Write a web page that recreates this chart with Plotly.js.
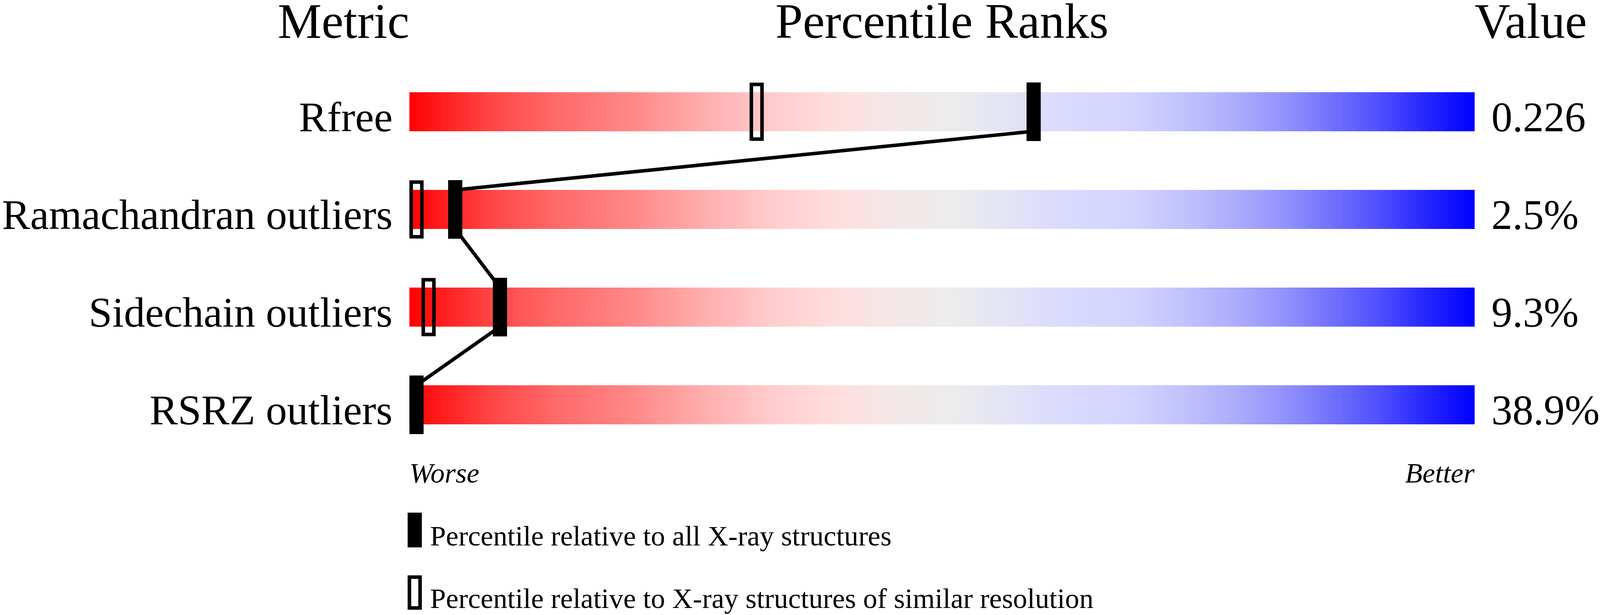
<!DOCTYPE html>
<html>
<head>
<meta charset="utf-8">
<script src="https://cdn.plot.ly/plotly-3.0.1.min.js"></script>
<style>
html,body{margin:0;padding:0;background:#ffffff;overflow:hidden;}
#chart{position:absolute;left:0;top:0;}
</style>
</head>
<body>
<div id="chart"></div>
<script>
// ---------------- data ----------------
const metrics = ['Rfree', 'Ramachandran outliers', 'Sidechain outliers', 'RSRZ outliers'];
const values = ['0.226', '2.5%', '9.3%', '38.9%'];
const pctAll = [58.6, 4.3, 8.5, 0.0];          // percentile vs all X-ray structures
const pctSimilar = [32.6, 0.0, 1.8, null];     // percentile vs similar resolution
const headers = ['Metric', 'Percentile Ranks', 'Value'];
const scaleEnds = ['Worse', 'Better'];
const legendLabels = [
  'Percentile relative to all X-ray structures',
  'Percentile relative to X-ray structures of similar resolution'
];
const gradientStops = [0, 0.02, 0.08, 0.14, 0.21, 0.27, 0.34, 0.40, 0.46, 0.51, 0.56, 0.60, 0.68, 0.73, 0.78, 0.83, 0.86, 0.91, 0.95, 1];
const gradientColors = [
  'rgb(255,0,0)', 'rgb(255,20,20)', 'rgb(255,72,72)', 'rgb(255,106,106)', 'rgb(255,136,136)',
  'rgb(255,170,170)', 'rgb(255,204,204)', 'rgb(255,222,222)', 'rgb(242,232,232)', 'rgb(236,236,236)',
  'rgb(228,228,244)', 'rgb(220,220,252)', 'rgb(211,211,255)', 'rgb(192,192,253)', 'rgb(170,170,252)',
  'rgb(140,140,253)', 'rgb(117,117,252)', 'rgb(80,80,255)', 'rgb(42,42,255)', 'rgb(0,0,255)'
];

// ---------------- geometry (reference design is 4506 x 1574) ----------------
const REF_W = 4506, REF_H = 1574;
const W = Math.round(window.innerWidth || REF_W);
const H = Math.round(window.innerHeight || REF_H);
const SX = W / REF_W, SY = H / REF_H, SF = Math.min(SX, SY);
const px = v => v * SX;    // horizontal design px -> page px
const py = v => v * SY;    // vertical design px -> page px
const fs = v => v * SF;    // font / stroke size

const BAR_L = 1153, BAR_R = 4153;
const PXU = (BAR_R - BAR_L) / 100;      // design px per percentile
const ROW0 = 286, ROWSTEP = 250;        // design px
const PAD = 10;
const xRange = [-PAD / PXU, 100 + PAD / PXU];
const xDomain = [(BAR_L - PAD) / REF_W, (BAR_R + PAD) / REF_W];
const yRange = [(REF_H - ROW0) / ROWSTEP, -ROW0 / ROWSTEP];
const BAR_H = 100 / ROWSTEP;
const MK_H = 150 / ROWSTEP;
const MK_W = 40 / PXU;
const OPEN_W = 30 / PXU, OPEN_H = 140 / ROWSTEP;
const FONT = 'Liberation Serif, Times New Roman, serif';

const clampC = p => Math.min(Math.max(p, MK_W / 2), 100 - MK_W / 2);
const colorscale = gradientStops.map((s, i) => [s, gradientColors[i]]);

const traces = [];
// gradient slider bars
const N = 600;
const xEdges = [], zRow = [];
for (let k = 0; k <= N; k++) xEdges.push(k * 100 / N);
for (let k = 0; k < N; k++) zRow.push((k + 0.5) * 100 / N);
metrics.forEach((m, i) => {
  traces.push({
    type: 'heatmap', x: xEdges, y: [i - BAR_H / 2, i + BAR_H / 2], z: [zRow],
    colorscale: colorscale, zmin: 0, zmax: 100, showscale: false,
    zsmooth: false, hoverinfo: 'skip'
  });
});

// open markers (similar resolution)
const sx = [], sy = [], sb = [];
pctSimilar.forEach((p, i) => {
  if (p === null) return;
  sx.push(clampC(p)); sy.push(OPEN_H); sb.push(i - OPEN_H / 2);
});
traces.push({
  type: 'bar', x: sx, y: sy, base: sb, width: OPEN_W,
  marker: { color: 'rgba(0,0,0,0)', line: { color: '#000000', width: fs(10) } },
  hoverinfo: 'skip'
});

// filled markers (all structures)
const cAll = pctAll.map(clampC);
traces.push({
  type: 'bar', x: cAll, y: metrics.map(() => MK_H), base: metrics.map((m, i) => i - MK_H / 2),
  width: MK_W, marker: { color: '#000000', line: { width: 0 } }, hoverinfo: 'skip'
});

// connecting line
const lx = [], ly = [];
metrics.forEach((m, i) => { lx.push(cAll[i], cAll[i]); ly.push(i - BAR_H / 2, i + BAR_H / 2); });
traces.push({
  type: 'scatter', mode: 'lines', x: lx, y: ly,
  line: { color: '#000000', width: fs(10), simplify: false }, hoverinfo: 'skip'
});

// ---------------- text ----------------
const annotations = [];
const DESC = 0.216;
function paperText(text, xd, baseD, sizeD, xanchor, italic) {
  const size = fs(sizeD);
  annotations.push({
    text: italic ? '<i>' + text + '</i>' : text, showarrow: false,
    xref: 'paper', yref: 'paper', x: xd / REF_W, y: 1 - (py(baseD) + DESC * size) / H,
    xanchor: xanchor, yanchor: 'bottom', borderpad: 0, borderwidth: 0,
    font: { family: FONT, size: size, color: '#000000' }
  });
}
function rowText(text, xd, row, sizeD, xanchor) {
  const size = fs(sizeD);
  annotations.push({
    text: text, showarrow: false,
    xref: 'paper', yref: 'y', x: xd / REF_W, y: row + BAR_H / 2,
    xanchor: xanchor, yanchor: 'bottom', borderpad: 0, borderwidth: 0,
    yshift: -(DESC * size),
    font: { family: FONT, size: size, color: '#000000' }
  });
}

paperText(headers[0], BAR_L, 97, 139, 'right', false);
paperText(headers[1], (BAR_L + BAR_R) / 2, 97, 139, 'center', false);
paperText(headers[2], BAR_R, 97, 139, 'left', false);

metrics.forEach((m, i) => {
  rowText(m, 1106, i, 119, 'right');
  rowText(values[i], 4200, i, 118, 'left');
});

paperText(scaleEnds[0], BAR_L, 1235, 80, 'left', true);
paperText(scaleEnds[1], BAR_R, 1235, 80, 'right', true);

paperText(legendLabels[0], 1211, 1396, 80, 'left', false);
paperText(legendLabels[1], 1211, 1556, 80, 'left', false);

const shapes = [
  { type: 'rect', xref: 'paper', yref: 'paper',
    x0: 1148 / REF_W, x1: 1188 / REF_W, y0: 1 - 1401 / REF_H, y1: 1 - 1312 / REF_H,
    fillcolor: '#000000', line: { width: 0 } },
  { type: 'rect', xref: 'paper', yref: 'paper',
    x0: 1153 / REF_W, x1: 1183 / REF_W, y0: 1 - 1556 / REF_H, y1: 1 - 1477 / REF_H,
    fillcolor: 'rgba(0,0,0,0)', line: { color: '#000000', width: fs(10) } }
];

const layout = {
  width: W, height: H,
  margin: { l: 0, r: 0, t: 0, b: 0, pad: 0 },
  paper_bgcolor: '#ffffff', plot_bgcolor: 'rgba(0,0,0,0)',
  showlegend: false, barmode: 'overlay',
  font: { family: FONT, color: '#000000' },
  xaxis: { domain: xDomain, range: xRange, showgrid: false, zeroline: false,
           showticklabels: false, ticks: '', showline: false, fixedrange: true },
  yaxis: { domain: [0, 1], range: yRange, showgrid: false, zeroline: false,
           showticklabels: false, ticks: '', showline: false, fixedrange: true },
  annotations: annotations,
  shapes: shapes
};

document.getElementById('chart').style.width = W + 'px';
document.getElementById('chart').style.height = H + 'px';
Plotly.newPlot('chart', traces, layout, { staticPlot: true, displayModeBar: false });
</script>
</body>
</html>
